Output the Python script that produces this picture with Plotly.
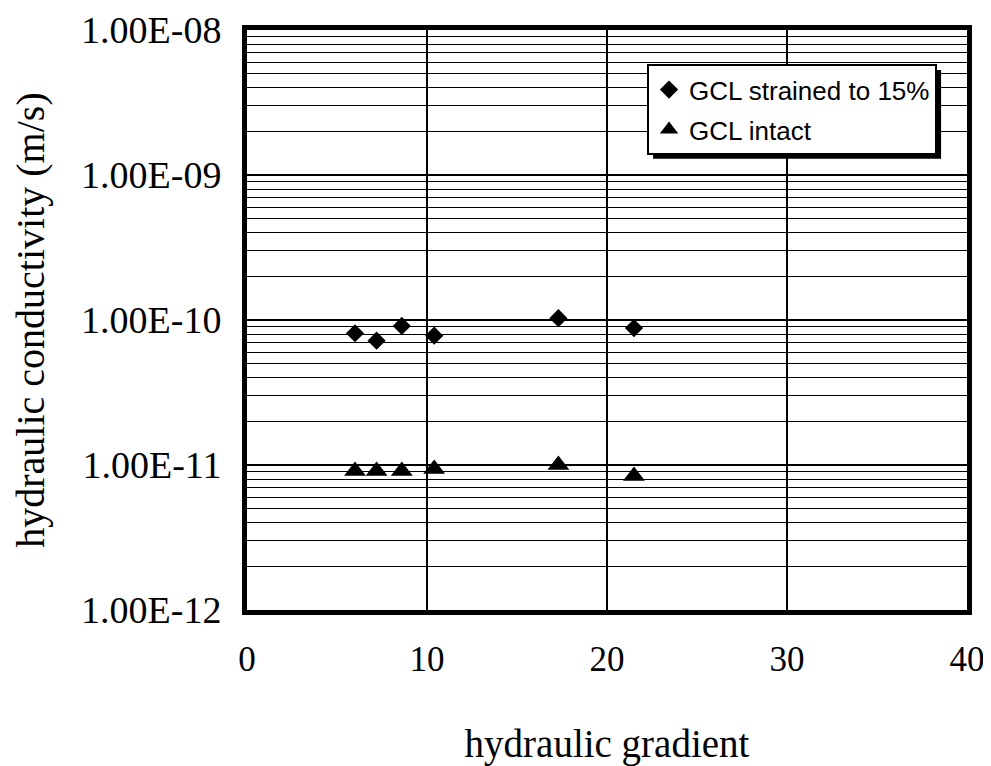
import plotly.graph_objects as go

# data
gradient = [6.0, 7.2, 8.6, 10.4, 17.3, 21.5]
k_strained = [8.1e-11, 7.2e-11, 9.1e-11, 7.8e-11, 1.03e-10, 8.8e-11]
k_intact = [9.1e-12, 9.1e-12, 9.1e-12, 9.4e-12, 1.0e-11, 8.4e-12]
series_names = ["GCL strained to 15%", "GCL intact"]
y_tickvals = [1e-12, 1e-11, 1e-10, 1e-9, 1e-8]
y_ticktext = ["1.00E-12", "1.00E-11", "1.00E-10", "1.00E-09", "1.00E-08"]
x_tickvals = [0, 10, 20, 30, 40]

minor_vals = [m * 10.0 ** e for e in range(-12, -8) for m in range(2, 10)]

serif = "Liberation Serif"
sans = "Liberation Sans"

fig = go.Figure()
fig.add_trace(go.Scatter(
    x=gradient, y=k_strained, mode="markers", name=series_names[0],
    legendgroup="a",
    marker=dict(symbol="diamond", size=14, color="black"),
))
fig.add_trace(go.Scatter(
    x=gradient, y=k_intact, mode="markers", name=series_names[1],
    legendgroup="b",
    marker=dict(symbol="triangle-up", size=19, color="black"),
))

# page body adds an 8px offset, so the figure is 8px smaller
fig.update_layout(
    width=983, height=758,
    margin=dict(l=239, r=24, t=22, b=156, autoexpand=False),
    paper_bgcolor="white", plot_bgcolor="white",
    font=dict(family=serif, color="black"),
    showlegend=True,
    legend=dict(
        x=0.5556, y=0.941, xanchor="left", yanchor="top",
        bgcolor="white", bordercolor="black", borderwidth=2,
        font=dict(family=sans, size=26, color="black"),
        tracegroupgap=3, itemwidth=30,
    ),
    shapes=[dict(
        type="rect", xref="paper", yref="paper",
        x0=0.564, x1=0.964, y0=0.778, y1=0.931,
        fillcolor="black", line=dict(width=0), layer="above",
    )],
)

fig.update_xaxes(
    range=[0, 40], tickvals=x_tickvals,
    showgrid=True, gridcolor="black", gridwidth=1.5,
    showline=True, linecolor="black", linewidth=5, mirror=True,
    ticks="inside", ticklen=6, tickcolor="black",
    tickfont=dict(family=serif, size=35, color="black"),
    ticklabelstandoff=14,
    zeroline=False, automargin=False,
    title=dict(text="hydraulic gradient", font=dict(family=serif, size=39, color="black"), standoff=60),
)
fig.update_yaxes(
    type="log", range=[-12, -8],
    tickvals=y_tickvals, ticktext=y_ticktext,
    showgrid=True, gridcolor="black", gridwidth=1.5,
    showline=True, linecolor="black", linewidth=5, mirror=True,
    ticks="inside", ticklen=6, tickcolor="black",
    tickfont=dict(family=serif, size=38, color="black"),
    ticklabelstandoff=13,
    minor=dict(tickvals=minor_vals, showgrid=True, gridcolor="black", gridwidth=1.2,
               ticks="inside", ticklen=6, tickcolor="black"),
    zeroline=False, automargin=False,
    title=dict(text="hydraulic conductivity (m/s)", font=dict(family=serif, size=40, color="black"), standoff=37),
)

fig.write_html("out.html")
